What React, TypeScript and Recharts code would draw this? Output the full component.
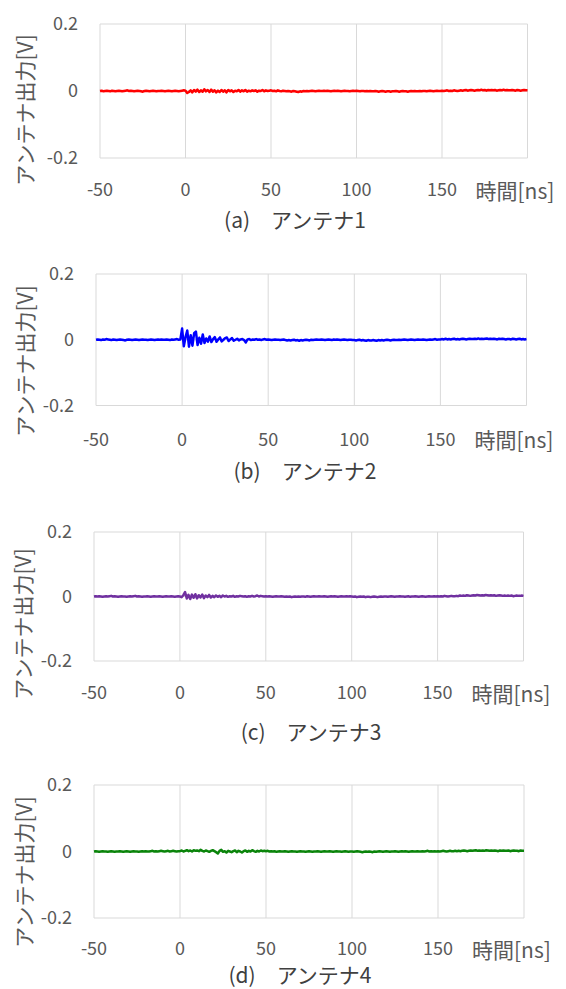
import { LineChart, Line, XAxis, YAxis, CartesianGrid } from 'recharts';

// sample times [ns], 1 ns step
const TIME_NS = [
  -50, -49, -48, -47, -46, -45, -44, -43, -42, -41,
  -40, -39, -38, -37, -36, -35, -34, -33, -32, -31,
  -30, -29, -28, -27, -26, -25, -24, -23, -22, -21,
  -20, -19, -18, -17, -16, -15, -14, -13, -12, -11,
  -10, -9, -8, -7, -6, -5, -4, -3, -2, -1,
  0, 1, 2, 3, 4, 5, 6, 7, 8, 9,
  10, 11, 12, 13, 14, 15, 16, 17, 18, 19,
  20, 21, 22, 23, 24, 25, 26, 27, 28, 29,
  30, 31, 32, 33, 34, 35, 36, 37, 38, 39,
  40, 41, 42, 43, 44, 45, 46, 47, 48, 49,
  50, 51, 52, 53, 54, 55, 56, 57, 58, 59,
  60, 61, 62, 63, 64, 65, 66, 67, 68, 69,
  70, 71, 72, 73, 74, 75, 76, 77, 78, 79,
  80, 81, 82, 83, 84, 85, 86, 87, 88, 89,
  90, 91, 92, 93, 94, 95, 96, 97, 98, 99,
  100, 101, 102, 103, 104, 105, 106, 107, 108, 109,
  110, 111, 112, 113, 114, 115, 116, 117, 118, 119,
  120, 121, 122, 123, 124, 125, 126, 127, 128, 129,
  130, 131, 132, 133, 134, 135, 136, 137, 138, 139,
  140, 141, 142, 143, 144, 145, 146, 147, 148, 149,
  150, 151, 152, 153, 154, 155, 156, 157, 158, 159,
  160, 161, 162, 163, 164, 165, 166, 167, 168, 169,
  170, 171, 172, 173, 174, 175, 176, 177, 178, 179,
  180, 181, 182, 183, 184, 185, 186, 187, 188, 189,
  190, 191, 192, 193, 194, 195, 196, 197, 198, 199,
  200,
];

// antenna outputs in mV
const ANT1_MV = [
  0, 1, -1, 0, 1, 0, -1, 1, 0, -1,
  0, 1, 0, -1, 0, 1, 2, 0, 1, 0,
  -1, 0, 1, 0, -1, -2, 0, 1, 0, -1,
  0, 1, 0, -1, 0, 0, 1, 0, -1, 0,
  1, 0, -1, 0, 1, 0, -1, 0, 1, 2,
  1, -6, -3, 2, -4, 3, -2, 4, -3, 2,
  -2, 5, -1, 3, -3, 4, -2, 2, -4, 1,
  -3, 3, -2, 2, -4, 3, -1, 2, -3, 1,
  -1, 3, -2, 2, -1, 3, -2, 1, -1, 2,
  0, 2, -2, 1, 0, 3, -1, 2, 0, 1,
  2, 0, 1, -1, 2, 0, -1, 1, 0, -1,
  0, -1, -2, 0, -1, -2, -3, -1, -2, 0,
  -1, 0, -1, 0, 1, 0, -1, 0, 1, 0,
  0, 1, 0, 1, 0, -1, 0, 1, 0, 1,
  0, -1, 0, 1, 0, 0, -1, 0, 1, 0,
  1, 0, -1, 0, 0, -1, 0, -1, 0, -1,
  -1, 0, -1, -2, -1, 0, -1, -2, -1, -1,
  -2, -1, -1, 0, -1, -2, -1, 0, -1, -1,
  -2, -1, 0, -1, 0, -1, -1, 0, -1, 0,
  0, -1, 0, 1, 0, -1, 0, 1, 0, 0,
  1, 0, 1, 2, 0, 1, 0, 2, 1, 0,
  1, 2, 1, 2, 3, 1, 2, 3, 2, 1,
  2, 3, 2, 4, 2, 3, 1, 3, 2, 3,
  2, 3, 1, 2, 3, 2, 4, 2, 3, 2,
  2, 3, 2, 1, 3, 2, 1, 2, 3, 2,
  2,
];

const ANT2_MV = [
  0, 1, 0, -1, 1, 0, 2, 1, 0, -1,
  1, 0, -1, 0, 1, 0, -1, -2, 0, 1,
  0, -1, 0, 1, 0, -1, 0, 1, 0, 0,
  -1, 0, 1, 0, -1, 0, 1, 0, 1, 0,
  0, 1, 0, -1, 1, 0, 1, 2, 0, 1,
  34, -20, 8, 28, -21, 14, -18, 20, 25, -16,
  6, -12, 16, -10, 4, -6, 10, -7, 2, 8,
  -6, 1, 7, -5, 0, 5, 7, -4, 1, 5,
  -3, 0, 3, -2, 1, 2, -1, -8, 1, 2,
  -1, 1, 0, 2, 0, 1, -1, 1, 2, 0,
  1, 0, -1, 0, 1, 0, 0, -1, 0, 1,
  -1, -2, -1, -2, -1, 0, -2, -1, -3, -1,
  -2, -1, 0, -1, -2, 0, -1, 0, 1, 0,
  0, 1, 0, -1, 0, 1, 0, -1, 1, 0,
  1, 0, -1, 0, 1, 0, -1, 0, 0, -1,
  -1, -2, -1, 0, -2, -1, -2, -3, -1, -2,
  -2, -1, -2, -3, -1, -2, -1, -2, -1, 0,
  -1, -2, -1, 0, -1, -1, 0, -1, 0, 1,
  0, -1, 0, 1, 0, -1, 0, 1, 0, 0,
  1, 0, -1, 0, 1, 0, 1, 2, 0, 1,
  1, 2, 1, 3, 1, 2, 1, 2, 3, 1,
  2, 1, 2, 3, 2, 1, 2, 3, 2, 2,
  3, 2, 4, 2, 3, 2, 3, 4, 2, 3,
  2, 3, 2, 1, 3, 2, 3, 2, 1, 2,
  2, 1, 3, 2, 1, 2, 3, 1, 2, 1,
  2,
];

const ANT3_MV = [
  0, 1, 0, 1, 0, -1, 0, 1, 0, 1,
  2, 0, 1, 0, -1, 0, 1, 0, 0, -1,
  0, 1, 0, 1, 2, 0, 1, 0, -1, 0,
  0, 1, 0, -1, 0, 1, 0, 0, 1, 0,
  -1, 0, 1, 0, 0, 1, 0, -1, 0, 1,
  0, -2, 4, 14, -6, 5, -8, 6, -4, 7,
  -6, 4, -3, 6, -5, 3, -2, 5, -3, 2,
  -2, 3, -1, 2, -2, 3, 0, 2, -1, 1,
  0, 2, -1, 1, 0, 2, 1, 0, 1, -1,
  1, 0, 2, 0, 1, 3, 0, 2, 1, 0,
  1, 0, 1, 0, -1, 0, 1, 0, 0, 1,
  0, -1, 0, -1, 0, -2, -1, 0, -1, 0,
  -1, 0, 0, -1, 1, 0, -1, 0, 1, 0,
  0, 1, 0, 0, 1, 0, -1, 0, 1, 0,
  1, 0, -1, 0, 1, 0, 0, 1, 0, 1,
  0, -1, 0, -2, -1, 0, -1, 0, -2, -1,
  -1, -2, -1, 0, -1, -2, -1, 0, -1, 0,
  0, -1, 0, 1, 0, -1, 0, 0, 1, 0,
  0, -1, 0, 1, -1, 0, 0, 1, 0, -1,
  0, 1, 0, -1, 0, 1, 0, 0, 1, 0,
  1, 0, 1, 0, 2, 1, 0, 1, 2, 1,
  1, 2, 1, 3, 2, 3, 2, 4, 3, 2,
  3, 4, 3, 5, 4, 3, 4, 3, 5, 4,
  3, 4, 3, 4, 2, 3, 4, 3, 2, 3,
  2, 3, 2, 3, 1, 2, 3, 2, 2, 3,
  2,
];

const ANT4_MV = [
  0, 1, 0, -1, 0, 1, 0, 0, -1, 0,
  1, 0, -1, 0, 0, 1, 0, -1, 0, 1,
  0, -1, 0, 1, 0, 0, -1, 0, 1, 0,
  1, 0, 0, 1, 2, 0, 1, 0, 1, 2,
  1, 0, 1, 2, 0, 1, 2, 1, 0, 1,
  1, 3, 0, 2, 4, 1, 3, 0, 4, 2,
  3, 1, 5, 2, 0, 3, 1, -1, 2, 4,
  1, -2, -6, 2, 5, -1, 1, -3, 2, 0,
  -2, 1, 3, -2, 2, 0, -3, 1, 3, -1,
  2, 0, 4, 1, -1, 2, 0, 3, 1, 2,
  1, 2, 0, 1, 0, 1, -1, 0, 1, 0,
  0, 1, 0, -1, 0, 1, 0, 0, -1, 0,
  1, 0, 0, -1, 0, 1, 0, -1, 0, 0,
  1, 0, -1, 0, 1, 0, 0, 1, 0, -1,
  0, 1, 0, 0, -1, 0, 1, 0, -1, 0,
  0, -1, 0, 1, 0, -1, -2, -1, 0, -1,
  0, -1, -2, 0, -1, 0, 1, 0, -1, 0,
  1, 0, -1, 0, 0, 1, 0, -1, 0, 1,
  0, 1, 0, -1, 0, 1, 0, 0, 1, 0,
  0, 1, 0, 1, 2, 0, 1, 0, 1, 0,
  1, 0, 1, 2, 1, 0, 1, 2, 1, 1,
  2, 1, 2, 1, 2, 3, 2, 1, 2, 3,
  2, 3, 4, 2, 3, 2, 3, 2, 4, 3,
  2, 3, 2, 3, 2, 1, 3, 2, 3, 2,
  2, 3, 1, 2, 3, 2, 2, 1, 3, 2,
  2,
];

const SERIES_MV = [ANT1_MV, ANT2_MV, ANT3_MV, ANT4_MV];
const X_TICKS = [-50, 0, 50, 100, 150, 200];
const Y_TICKS = [-0.2, 0, 0.2];
const X_TITLE = '時間[ns]';
const Y_TITLE = 'アンテナ出力[V]';
const CAPTIONS = ['(a)　アンテナ1', '(b)　アンテナ2', '(c)　アンテナ3', '(d)　アンテナ4'];
const COLORS = ['#ff0000', '#0000ff', '#7030a0', '#0a840a'];

const FONT = '"Noto Sans CJK JP", "Noto Sans", sans-serif';
const W = 566;

// plot boxes and text spots per panel (page px)
const LAYOUT = [
  { left: 100, right: 527.5, top: 24, bottom: 158, tickY: 190, titleX: 23.5, titleY: 110, capX: 295, capY: 219 },
  { left: 96, right: 526.5, top: 273.5, bottom: 405, tickY: 439, titleX: 24, titleY: 361, capX: 305, capY: 470 },
  { left: 94, right: 523.5, top: 532, bottom: 661, tickY: 693, titleX: 21.5, titleY: 624, capX: 311, capY: 731 },
  { left: 94, right: 524, top: 785, bottom: 918, tickY: 949, titleX: 22.5, titleY: 872, capX: 300, capY: 974 },
];

const tickStyle = { fontSize: 18, fontFamily: FONT, fill: '#595959' };

function Panel({ idx }: { idx: number }) {
  const L = LAYOUT[idx];
  const pad = 20;
  const xAxisH = 44;
  const plotH = L.bottom - L.top;
  const data = TIME_NS.map((t, i) => ({ t, v: SERIES_MV[idx][i] / 1000 }));

  return (
    <>
      <div style={{ position: 'absolute', left: 0, top: L.top - pad }}>
        <LineChart
          width={W}
          height={pad + plotH + xAxisH}
          data={data}
          margin={{ top: pad, right: W - L.right, bottom: 0, left: 0 }}
        >
          <CartesianGrid stroke="#d9d9d9" strokeWidth={1} />
          <XAxis
            dataKey="t"
            type="number"
            domain={[-50, 200]}
            ticks={X_TICKS}
            interval={0}
            axisLine={false}
            tickLine={false}
            tickSize={0}
            tickMargin={L.tickY - L.bottom - 6.4}
            height={xAxisH}
            tick={tickStyle}
            tickFormatter={(v: number) => (v === 200 ? '' : String(v))}
          />
          <YAxis
            type="number"
            domain={[-0.2, 0.2]}
            ticks={Y_TICKS}
            interval={0}
            width={L.left}
            axisLine={false}
            tickLine={false}
            tickSize={0}
            tickMargin={22}
            tick={tickStyle}
          />
          <Line
            dataKey="v"
            stroke={COLORS[idx]}
            strokeWidth={2.5}
            strokeLinejoin="round"
            dot={false}
            isAnimationActive={false}
          />
        </LineChart>
      </div>
      <div
        style={{
          position: 'absolute',
          left: L.titleX,
          top: L.titleY,
          transform: 'translate(-50%, -50%) rotate(-90deg)',
          whiteSpace: 'nowrap',
          fontFamily: FONT,
          fontSize: 21,
          lineHeight: 1,
          color: '#595959',
        }}
      >
        {Y_TITLE}
      </div>
      <div
        style={{
          position: 'absolute',
          left: L.right - 52,
          top: L.tickY,
          transform: 'translateY(-50%)',
          whiteSpace: 'nowrap',
          fontFamily: FONT,
          fontSize: 21,
          lineHeight: 1,
          color: '#595959',
        }}
      >
        {X_TITLE}
      </div>
      <div
        style={{
          position: 'absolute',
          left: L.capX,
          top: L.capY,
          transform: 'translate(-50%, -50%)',
          whiteSpace: 'nowrap',
          fontFamily: FONT,
          fontSize: 21,
          lineHeight: 1,
          color: '#404040',
        }}
      >
        {CAPTIONS[idx]}
      </div>
    </>
  );
}

export default function App() {
  return (
    <div style={{ position: 'absolute', left: 0, top: 0, width: W, height: 989, background: '#fff' }}>
      {[0, 1, 2, 3].map((i) => (
        <Panel key={i} idx={i} />
      ))}
    </div>
  );
}
